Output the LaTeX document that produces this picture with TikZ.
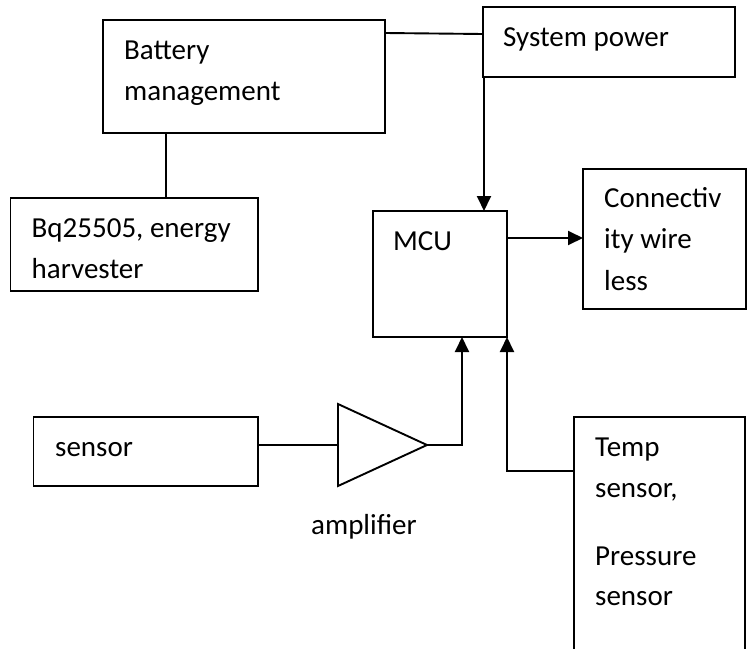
\documentclass[tikz,border=0pt]{standalone}
\usepackage{fontspec}
\setmainfont{Carlito}
\usetikzlibrary{arrows.meta}
\tikzset{
  box/.style={draw, line width=1.9pt, inner sep=0pt, outer sep=0pt, anchor=north west},
  txt/.style={anchor=base west, inner sep=0pt, font=\fontsize{29}{41}\selectfont},
  wire/.style={line width=1.9pt},
  arr/.style={line width=1.9pt, -{Triangle[length=15pt,width=14pt]}}
}
\begin{document}
\begin{tikzpicture}[x=1pt,y=-1pt]
\useasboundingbox (0,0) rectangle (747,648);
\clip (0,0) rectangle (747,648);
\fill[white] (0,0) rectangle (747,648);
% boxes
\node[box, minimum width=282pt, minimum height=113pt] (bat) at (103,20) {};
\node[box, minimum width=252pt, minimum height=70pt] (sys) at (483,7) {};
\node[box, minimum width=247.5pt, minimum height=93pt] (bq) at (10.5,198) {};
\node[box, minimum width=134pt, minimum height=126pt] (mcu) at (373,211) {};
\node[box, minimum width=163pt, minimum height=140pt] (conn) at (583,169) {};
\node[box, minimum width=224.5pt, minimum height=69pt] (sensor) at (33.5,417) {};
\node[box, minimum width=171pt, minimum height=260pt] (temp) at (574,417) {};
% amplifier
\coordinate (ampin) at (338,445);
\coordinate (ampout) at (427,445);
\draw[wire, line join=miter] (338,404) -- (ampout) -- (338,486) -- cycle;
% texts
\node[txt] (t1) at (124,59) {Battery};
\node[txt] (t2) at (124,100) {management};
\node[txt] (t3) at (503,46) {System power};
\node[txt] (t4) at (31.5,237) {Bq25505, energy};
\node[txt] (t5) at (31.5,278) {harvester};
\node[txt] (t6) at (393,250) {MCU};
\node[txt] (t7) at (604,207) {Connectiv};
\node[txt] (t8) at (604,248) {ity wire};
\node[txt] (t9) at (604,290) {less};
\node[txt] (t10) at (55,456) {sensor};
\node[txt] (t11) at (311,534) {amplifier};
\node[txt] (t12) at (595,456) {Temp};
\node[txt] (t13) at (595,497) {sensor,};
\node[txt] (t14) at (595,565) {Pressure};
\node[txt] (t15) at (595,605) {sensor};
% connectors
\draw[wire] ([yshift=-13pt]bat.north east) -- ([yshift=-27pt]sys.north west);
\draw[wire] ([xshift=63pt]bat.south west) -- ([xshift=63pt]bat.south west |- bq.north);
\draw[arr] ([xshift=1pt]sys.south west) -- ([xshift=1pt]sys.south west |- mcu.north);
\draw[arr] ([yshift=36pt]mcu.east) -- ([yshift=36pt]mcu.east -| conn.west);
\draw[wire] (sensor.east |- ampin) -- (ampin);
\draw[arr] (ampout) -| ([xshift=-45pt]mcu.south east);
\draw[arr] ([yshift=-54pt]temp.north west) -| (mcu.south east);
\end{tikzpicture}
\end{document}
